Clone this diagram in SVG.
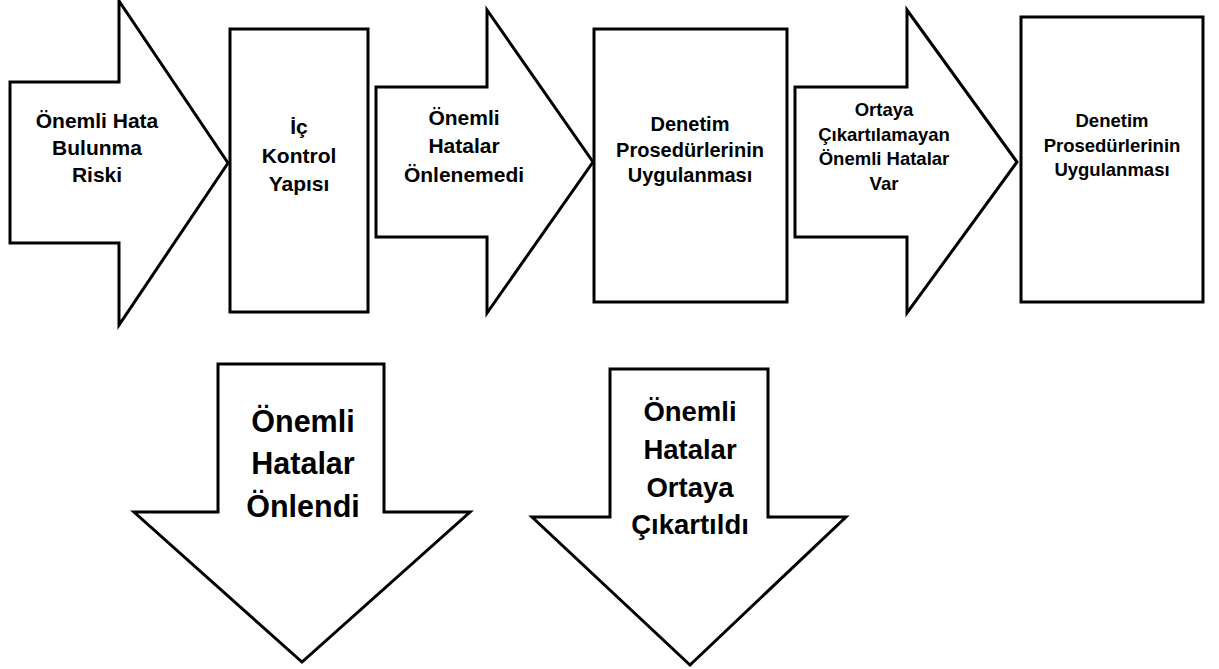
<svg xmlns="http://www.w3.org/2000/svg" width="1219" height="669" viewBox="0 0 1219 669">
<style>
.s{fill:#fff;stroke:#000;stroke-width:3;stroke-linejoin:miter}
.t{font-family:"Liberation Sans",Arial,sans-serif;font-weight:bold;fill:#000;text-anchor:middle}
</style>
<rect width="1219" height="669" fill="#fff"/>
<g id="arrow-risk">
<polygon class="s" points="10,82 119,82 119,1 228,163 119,325 119,243 10,243"/>
<text class="t" font-size="21" x="97"><tspan x="97" y="128">Önemli Hata</tspan><tspan x="97" y="155">Bulunma</tspan><tspan x="97" y="182">Riski</tspan></text>
</g>
<g id="box-ic-kontrol">
<rect class="s" x="230" y="29" width="138" height="283"/>
<text class="t" font-size="21"><tspan x="299" y="134">İç</tspan><tspan x="299" y="163">Kontrol</tspan><tspan x="299" y="191">Yapısı</tspan></text>
</g>
<g id="arrow-onlenemedi">
<polygon class="s" points="376,87 487,87 487,10 593,162 487,313 487,237 376,237"/>
<text class="t" font-size="21"><tspan x="464" y="125">Önemli</tspan><tspan x="464" y="153">Hatalar</tspan><tspan x="464" y="182">Önlenemedi</tspan></text>
</g>
<g id="box-denetim-1">
<rect class="s" x="594" y="29" width="193" height="273"/>
<text class="t" font-size="20"><tspan x="690" y="131">Denetim</tspan><tspan x="690" y="157">Prosedürlerinin</tspan><tspan x="690" y="182">Uygulanması</tspan></text>
</g>
<g id="arrow-cikartilamayan">
<polygon class="s" points="795,87 907,87 907,10 1017,162 907,313 907,237 795,237"/>
<text class="t" font-size="18.5"><tspan x="884" y="116">Ortaya</tspan><tspan x="884" y="141">Çıkartılamayan</tspan><tspan x="884" y="165">Önemli Hatalar</tspan><tspan x="884" y="190">Var</tspan></text>
</g>
<g id="box-denetim-2">
<rect class="s" x="1021" y="17" width="182" height="285"/>
<text class="t" font-size="18.5"><tspan x="1112" y="127">Denetim</tspan><tspan x="1112" y="152">Prosedürlerinin</tspan><tspan x="1112" y="176">Uygulanması</tspan></text>
</g>
<g id="arrow-onlendi">
<polygon class="s" points="218,364 384,364 384,512 470,512 302,662 134,512 218,512"/>
<text class="t" font-size="30.5"><tspan x="303" y="432">Önemli</tspan><tspan x="303" y="474">Hatalar</tspan><tspan x="303" y="517">Önlendi</tspan></text>
</g>
<g id="arrow-ortaya-cikartildi">
<polygon class="s" points="610,369 768,369 768,517 846,517 690,665 532,517 610,517"/>
<text class="t" font-size="27.5"><tspan x="690" y="421">Önemli</tspan><tspan x="690" y="459">Hatalar</tspan><tspan x="690" y="497">Ortaya</tspan><tspan x="690" y="534">Çıkartıldı</tspan></text>
</g>
<g id="connectors"/>
</svg>
